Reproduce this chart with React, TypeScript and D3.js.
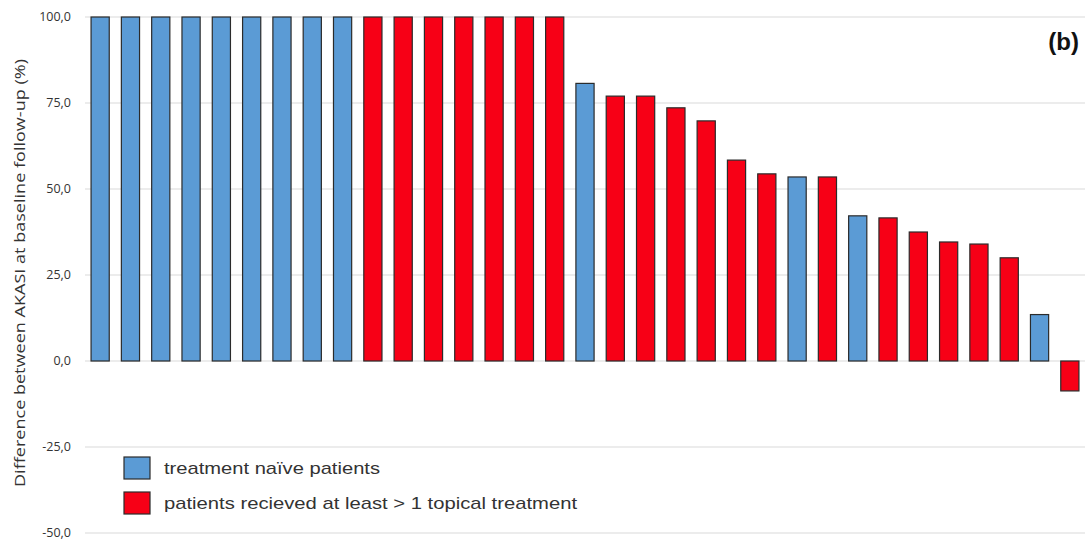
import { useEffect, useRef } from 'react'
import * as d3 from 'd3'

// patient bars, sorted as in the figure
const groups = [
  'naive', 'naive', 'naive', 'naive', 'naive', 'naive', 'naive', 'naive', 'naive',
  'treated', 'treated', 'treated', 'treated', 'treated', 'treated', 'treated',
  'naive', 'treated', 'treated', 'treated', 'treated', 'treated', 'treated',
  'naive', 'treated', 'naive', 'treated', 'treated', 'treated', 'treated', 'treated',
  'naive', 'treated',
]
const values = [
  100, 100, 100, 100, 100, 100, 100, 100, 100,
  100, 100, 100, 100, 100, 100, 100,
  80.7, 77, 77, 73.6, 69.8, 58.4, 54.4,
  53.5, 53.5, 42.2, 41.6, 37.5, 34.6, 34, 30,
  13.5, -8.7,
]
const yTicks = [-50, -25, 0, 25, 50, 75, 100]
const legendLabels = ['treatment naïve patients', 'patients recieved at least > 1 topical treatment']
const legendKeys = ['naive', 'treated']

const colors: Record<string, string> = { naive: '#5b9bd5', treated: '#f70016' }
const font = '"Open Sans", Arial, "Liberation Sans", sans-serif'

const App = () => {
  const svgRef = useRef<SVGSVGElement>(null)

  useEffect(() => {
    const left = 85
    const right = 1085
    const top = 17
    const bottom = 533

    const svg = d3.select(svgRef.current)
    svg.selectAll('*').remove()

    const x = d3.scaleBand<number>()
      .domain(d3.range(values.length))
      .range([left, right])
      .paddingInner(0.4)
      .paddingOuter(0.2)

    const y = d3.scaleLinear().domain([-50, 100]).range([bottom, top])

    // grid
    svg.append('g')
      .selectAll('line')
      .data(yTicks)
      .join('line')
      .attr('x1', left)
      .attr('x2', right)
      .attr('y1', d => y(d))
      .attr('y2', d => y(d))
      .attr('stroke', '#d9d9d9')
      .attr('stroke-width', 1.2)

    // tick labels
    const fmt = (d: number) => d3.format('.1f')(d).replace('.', ',').replace('−', '-')
    svg.append('g')
      .selectAll('text')
      .data(yTicks)
      .join('text')
      .attr('x', 71)
      .attr('y', d => y(d))
      .attr('dy', '0.35em')
      .attr('text-anchor', 'end')
      .style('font-family', font)
      .style('font-size', '12.5px')
      .attr('fill', '#333')
      .text(fmt)

    // bars
    svg.append('g')
      .selectAll('rect')
      .data(values)
      .join('rect')
      .attr('x', (d, i) => x(i)!)
      .attr('width', x.bandwidth())
      .attr('y', d => y(Math.max(0, d)))
      .attr('height', d => Math.abs(y(d) - y(0)))
      .attr('fill', (d, i) => colors[groups[i]])
      .attr('stroke', '#2b2b2b')
      .attr('stroke-width', 1.2)

    // axis title
    svg.append('text')
      .attr('transform', `translate(25, 273) rotate(-90)`)
      .attr('text-anchor', 'middle')
      .attr('textLength', 428)
      .attr('lengthAdjust', 'spacingAndGlyphs')
      .style('font-family', font)
      .style('font-size', '15px')
      .attr('fill', '#333')
      .text('Difference between AKASI  at baseline follow-up (%)')

    // panel label
    svg.append('text')
      .attr('x', 1079)
      .attr('y', 50)
      .attr('text-anchor', 'end')
      .style('font-family', 'Arial, "Liberation Sans", sans-serif')
      .style('font-size', '24px')
      .style('font-weight', 'bold')
      .attr('fill', '#111')
      .text('(b)')

    // legend
    const lg = svg.append('g')
    const widths = [216, 413]
    legendKeys.forEach((k, i) => {
      lg.append('rect')
        .attr('x', 124)
        .attr('y', 457 + i * 35)
        .attr('width', 26)
        .attr('height', 22)
        .attr('fill', colors[k])
        .attr('stroke', '#2b2b2b')
        .attr('stroke-width', 1.2)
      lg.append('text')
        .attr('x', 164)
        .attr('y', 468 + i * 35)
        .attr('dy', '0.35em')
        .attr('textLength', widths[i])
        .attr('lengthAdjust', 'spacingAndGlyphs')
        .style('font-family', 'Arial, "Liberation Sans", sans-serif')
        .style('font-size', '17px')
        .attr('fill', '#333')
        .text(legendLabels[i])
    })
  }, [])

  return (
    <svg
      ref={svgRef}
      width={1087}
      height={541}
      style={{ position: 'absolute', left: 0, top: 0, background: '#fff' }}
    />
  )
}

export default App
